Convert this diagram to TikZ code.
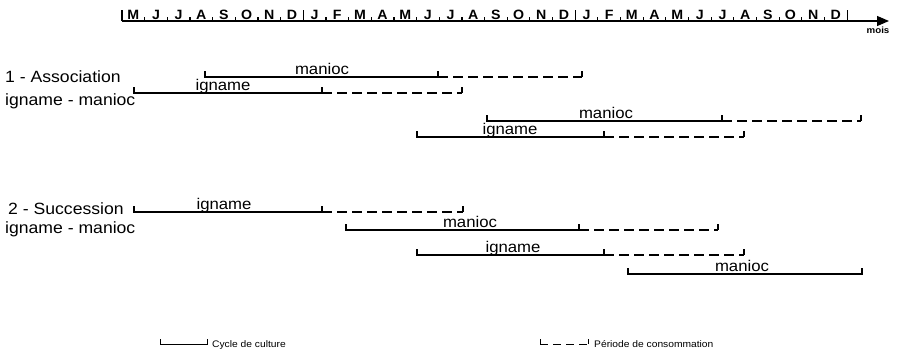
\documentclass[tikz,border=0pt]{standalone}
\usepackage{fontspec}
\setmainfont{Liberation Sans}[FakeStretch=1.08]
\newfontfamily\axisfont{Liberation Sans}[FakeStretch=1.05]
\usetikzlibrary{arrows.meta}
\newcommand{\culture}[7]{%
  \draw[solidbar] (#1,#4-6) -- (#1,#4) -- (#2,#4) -- (#2,#4-6);
  \draw[dashbar] (#2,#4) -- (#3,#4);
  \draw[solidbar] (#3,#4) -- (#3,#4-6);
  \node[lbl] (#7) at (#5,#4-3) {#6};
}
\begin{document}
\begin{tikzpicture}[x=1pt,y=-1pt,
  solidbar/.style={line width=1.3pt},
  dashbar/.style={line width=1.3pt, dash pattern=on 10pt off 5pt},
  lbl/.style={font=\fontsize{15.5}{17}\selectfont, inner sep=0pt, anchor=base},
  rowlbl/.style={font=\fontsize{16.3}{18}\selectfont, inner sep=0pt, anchor=base west},
  month/.style={font=\axisfont\bfseries\fontsize{13.5}{13.5}\selectfont, inner sep=0pt, anchor=base},
  legend/.style={font=\fontsize{9.5}{10}\selectfont, inner sep=0pt, anchor=base west},
  axisline/.style={line width=1.2pt}]
\path[fill=white] (0,0) rectangle (901,351);
% axis
\coordinate (a0) at (122,21);
\coordinate (a1) at (889,21);
\draw[axisline, -{Triangle[length=12pt,width=10pt]}] (a0) -- (a1);
\foreach \m [count=\i from 0] in {M,J,J,A,S,O,N,D,J,F,M,A,M,J,J,A,S,O,N,D,J,F,M,A,M,J,J,A,S,O,N,D}
  \node[month] (m\i) at ({122+22.66*(\i+0.5)},19) {\m};
\foreach \k in {1,...,31}
  \draw[axisline] ({122+22.66*\k},21) -- ({122+22.66*\k},17);
\foreach \k in {0,8,20,32}
  \draw[axisline] ({122+22.66*\k},21) -- ({122+22.66*\k},10);
\node[font=\bfseries\fontsize{9}{9}\selectfont, inner sep=0pt] (mois) at (878,30) {mois};
% row labels
\node[rowlbl] (r1a) at (5,82) {1 - Association};
\node[rowlbl] (r1b) at (5,105) {igname - manioc};
\node[rowlbl] (r2a) at (8,214) {2 - Succession};
\node[rowlbl] (r2b) at (5,233) {igname - manioc};
% association
\culture{205}{438}{582}{77}{322}{manioc}{l1}
\culture{134}{322}{462}{93}{223}{igname}{l2}
\culture{487}{722}{861}{121}{606}{manioc}{l3}
\culture{417}{604}{744}{137}{510}{igname}{l4}
% succession
\culture{134}{322}{463}{212}{224}{igname}{l5}
\culture{346}{579}{718}{230}{470}{manioc}{l6}
\culture{417}{604}{744}{255}{513}{igname}{l7}
\draw[solidbar] (628,268) -- (628,274) -- (862,274) -- (862,268);
\node[lbl] (l8) at (742,271) {manioc};
% legend
\draw[line width=1pt] (160,339) -- (160,344) -- (207,344) -- (207,339);
\node[legend] (lg1) at (212,347) {Cycle de culture};
\draw[line width=1pt] (540,339) -- (540,344);
\draw[line width=1pt, dash pattern=on 8pt off 5pt] (540,344) -- (588,344);
\draw[line width=1pt] (588,344) -- (588,339);
\node[legend] (lg2) at (594,347) {Période de consommation};
\end{tikzpicture}
\end{document}
